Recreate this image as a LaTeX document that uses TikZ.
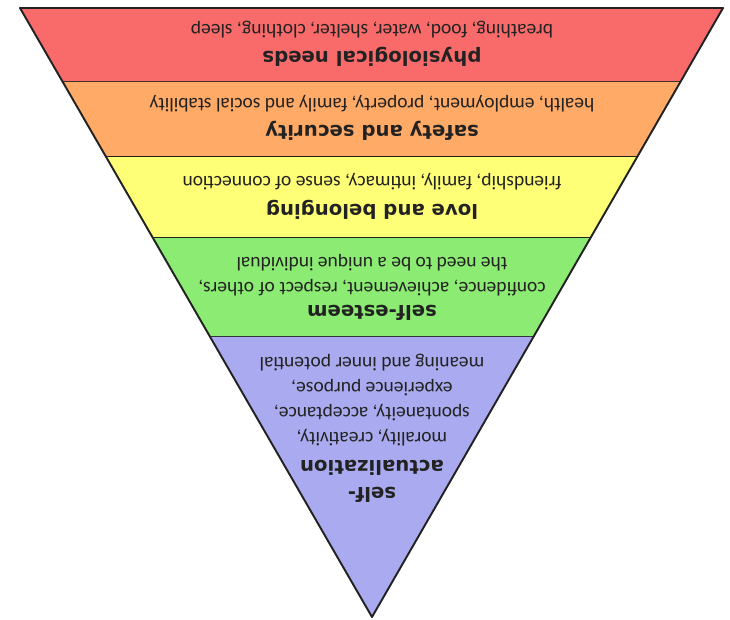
\documentclass[tikz,border=0pt]{standalone}
\usepackage{fontspec}
\setmainfont{Carlito}
\newfontfamily\titlefont{DejaVu Sans}
\usetikzlibrary{calc}
\definecolor{physcolor}{HTML}{F96B6B}
\definecolor{safecolor}{HTML}{FFAA66}
\definecolor{lovecolor}{HTML}{FFFF77}
\definecolor{esteemcolor}{HTML}{8CEB73}
\definecolor{selfcolor}{HTML}{AAAAF0}
\definecolor{inkcolor}{HTML}{222222}

\tikzset{
    band line/.style={line width=1.1pt, color=inkcolor, line join=round},
    level title/.style={rotate=180, align=center, text=inkcolor,
        font=\titlefont\bfseries\fontsize{11.2}{15.3}\selectfont},
    level text/.style={rotate=180, align=center, text=inkcolor,
        font=\fontsize{11.1}{14.2}\selectfont}
}

\begin{document}
\begin{tikzpicture}[x=0.02cm, y=-0.02cm]
    \useasboundingbox (0,0) rectangle (730,619);

    % Corners
    \coordinate (tl) at (20,8);
    \coordinate (tr) at (723,8);
    \coordinate (ap) at (372,617);

    % Bands
    \foreach \a/\b/\col in {0/0.1215/physcolor, 0.1215/0.2447/safecolor,
                            0.2447/0.3777/lovecolor, 0.3777/0.5402/esteemcolor} {
        \fill[\col] ($(tl)!\a!(ap)$) -- ($(tr)!\a!(ap)$)
                 -- ($(tr)!\b!(ap)$) -- ($(tl)!\b!(ap)$) -- cycle;
        \draw[band line] ($(tl)!\b!(ap)$) -- ($(tr)!\b!(ap)$);
    }
    \fill[selfcolor] ($(tl)!0.5402!(ap)$) -- ($(tr)!0.5402!(ap)$) -- (ap) -- cycle;
    \draw[band line] (tl) -- (tr) -- (ap) -- cycle;

    % Labels
    \node[level title] (physT) at (372,57) {physiological needs};
    \node[level text]  (physD) at (372,30) {breathing, food, water, shelter, clothing, sleep};
    \node[level title] (safeT) at (372,131) {safety and security};
    \node[level text]  (safeD) at (372,104) {health, employment, property, family and social stability};
    \node[level title] (loveT) at (372,210) {love and belonging};
    \node[level text]  (loveD) at (372,182) {friendship, family, intimacy, sense of connection};
    \node[level title] (esteemT) at (372,313) {self-esteem};
    \node[level text]  (esteemD) at (372,275) {confidence, achievement, respect of others,\\the need to be a unique individual};
    \node[level title] (selfT) at (372,481) {self-\\actualization};
    \node[level text]  (selfD) at (372,400) {morality, creativity,\\spontaneity, acceptance,\\experience purpose,\\meaning and inner potential};
\end{tikzpicture}
\end{document}
